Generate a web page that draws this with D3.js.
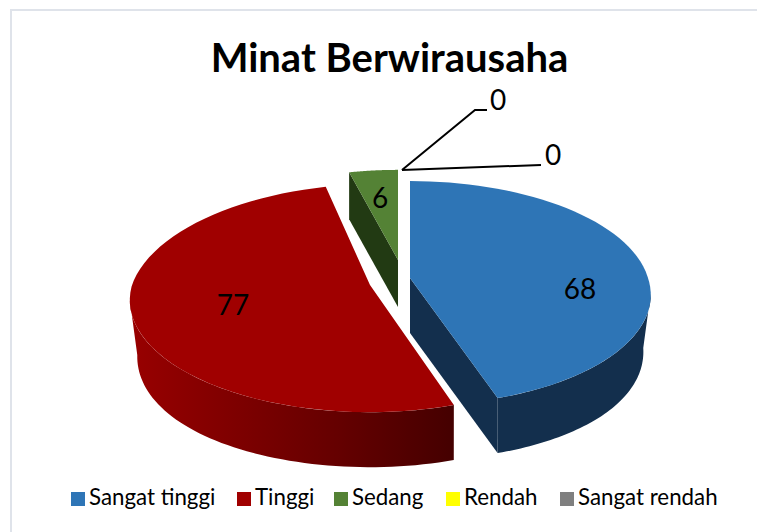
<!DOCTYPE html>
<html><head><meta charset="utf-8">
<script src="https://cdnjs.cloudflare.com/ajax/libs/d3/7.8.5/d3.min.js"></script>
<style>html,body{margin:0;background:#fff}svg{display:block}text{font-family:Lato,"Open Sans",sans-serif;fill:#000}</style>
</head><body><script>
const categories = ["Sangat tinggi","Tinggi","Sedang","Rendah","Sangat rendah"];
const values = [68,77,6,0,0];
const colors = ["#2e75b6","#a00000","#548235","#ffff00","#7f7f7f"];
const wallColors = ["#132f4d","#5a0000","#223a13","#808000","#404040"];
const apexes = [[410,278],[370,285],[398,260]];
const depths = [55,55,47];
const fx = [1,1,.94], fy = [1,1,.93];
const frontShear = [4,0,0], backShear = [0,8,0], backLift = [0,4,0];
const labelPos = [[580,289],[233,305],[380,198],[498,100],[553,155]];
const legendX = [71,237,334,446,560];
const W=757,H=532,R=238,K=110,P=0.135;
const svg=d3.select("body").append("svg").attr("width",W).attr("height",H);
const fmt=d3.format("d");
svg.append("rect").attr("x",11).attr("y",10).attr("width",W+10).attr("height",H+10).attr("fill","#fff").attr("stroke","#dfe3ea").attr("stroke-width",2);
const defs=svg.append("defs");
const g=defs.append("linearGradient").attr("id","redWall").attr("gradientUnits","userSpaceOnUse").attr("x1",131).attr("x2",453).attr("y1",0).attr("y2",0);
[[0,"#980000"],[0.35,"#7c0000"],[0.65,"#640000"],[1,"#450000"]].forEach(s=>g.append("stop").attr("offset",s[0]).attr("stop-color",s[1]));
const arcs=d3.pie().sort(null).value(d=>d).startAngle(0).endAngle(2*Math.PI)(values);
// perspective projection of a point on the pie disc; t = 0 top ring, t = 1 bottom ring
const proj=(a,i,t=0,r=1)=>{const u=r*Math.sin(a),v=-r*Math.cos(a),s=1/(1-P*v);
  const taper=1-0.032*t*Math.pow(Math.abs(u),3);
  const vf=Math.max(v,0),vb=Math.max(-v,0);
  return [apexes[i][0]+u*R*s*fx[i]*taper+frontShear[i]*vf+backShear[i]*vb,
          apexes[i][1]+v*K*s*fy[i]-backLift[i]*vb+t*depths[i]];};
const line=d3.line();
const sample=(a0,a1)=>d3.range(0,61).map(k=>a0+(a1-a0)*k/60);
const order=[2,0,1];
order.forEach(i=>{
  const d=arcs[i],a0=d.startAngle,a1=d.endAngle,G=svg.append("g");
  const wallFill=i===1?"url(#redWall)":wallColors[i];
  const cut=i===1?null:(i===0?a1:a0);
  if(cut!==null){
    G.append("path").attr("fill",wallColors[i]).attr("d",line([proj(0,i,0,0),proj(cut,i),proj(cut,i,1),proj(0,i,1,0)])+"Z");
  }
  const w0=Math.max(a0,Math.PI/2+P),w1=Math.min(a1,3*Math.PI/2-P);
  if(w1>w0){
    const t=sample(w0,w1);
    G.append("path").attr("fill",wallFill).attr("d",line(t.map(a=>proj(a,i)).concat(t.slice().reverse().map(a=>proj(a,i,1))))+"Z");
  }
  G.append("path").attr("fill",colors[i]).attr("d",line([proj(0,i,0,0)].concat(sample(a0,a1).map(a=>proj(a,i))))+"Z");
});
const anchor=[402,170];
svg.append("path").attr("fill","none").attr("stroke","#000").attr("stroke-width",2).attr("d",line([anchor,[475,110],[487,110]]));
svg.append("path").attr("fill","none").attr("stroke","#000").attr("stroke-width",2).attr("d",line([anchor,[541,165]]));
values.forEach((v,i)=>svg.append("text").attr("x",labelPos[i][0]).attr("y",labelPos[i][1]+10).attr("text-anchor","middle").attr("font-size",28).text(fmt(v)));
svg.append("text").attr("x",389.5).attr("y",72).attr("text-anchor","middle").attr("font-size",40).attr("font-weight",700).text("Minat Berwirausaha");
categories.forEach((c,i)=>{
  svg.append("rect").attr("x",legendX[i]).attr("y",492).attr("width",14).attr("height",14).attr("fill",colors[i]);
  svg.append("text").attr("x",legendX[i]+18).attr("y",505).attr("font-size",22.3).text(c);
});
</script></body></html>
